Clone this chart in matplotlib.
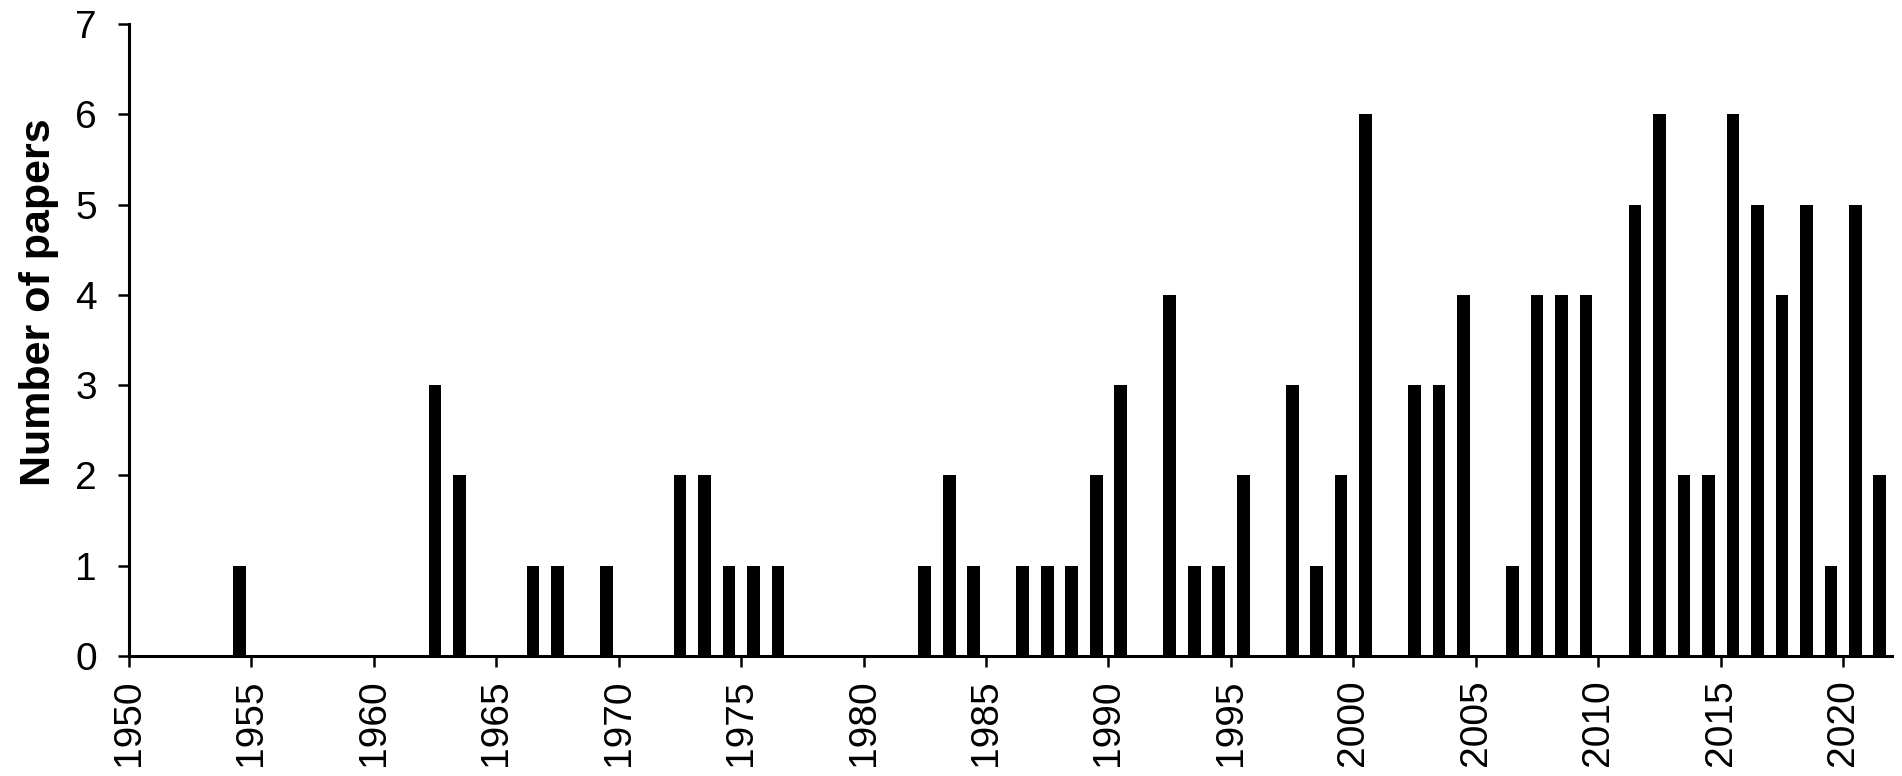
import matplotlib
matplotlib.use("Agg")
import matplotlib.pyplot as plt

# number of papers per year (years with zero papers left out)
years = [1954, 1962, 1963, 1966, 1967, 1969, 1972, 1973, 1974, 1975, 1976,
         1982, 1983, 1984, 1986, 1987, 1988, 1989, 1990, 1992, 1993, 1994,
         1995, 1997, 1998, 1999, 2000, 2002, 2003, 2004, 2006, 2007, 2008,
         2009, 2011, 2012, 2013, 2014, 2015, 2016, 2017, 2018, 2019, 2020, 2021]
papers = [1, 3, 2, 1, 1, 1, 2, 2, 1, 1, 1,
          1, 2, 1, 1, 1, 1, 2, 3, 4, 1, 1,
          2, 3, 1, 2, 6, 3, 3, 4, 1, 4, 4,
          4, 5, 6, 2, 2, 6, 5, 4, 5, 1, 5, 2]
xticks = list(range(1950, 2021, 5))
yticks = list(range(0, 8))

plt.rcParams['font.family'] = ['Liberation Sans', 'DejaVu Sans']

fig = plt.figure(figsize=(19.02, 7.76), dpi=100)
ax = fig.add_axes([0.0678, 0.1546, 0.927, 0.8144])

# Excel-style date axis: each year's bar sits in the middle of its slot
x = [y + 0.5 for y in years]
ax.bar(x, papers, width=0.52, color='black', edgecolor='none')

ax.set_xlim(1950, 2022)
ax.set_ylim(0, 7)
ax.set_xticks(xticks)
ax.set_xticklabels([str(t) for t in xticks], rotation=90)
ax.set_yticks(yticks)

for side in ['top', 'right']:
    ax.spines[side].set_visible(False)
for side in ['left', 'bottom']:
    ax.spines[side].set_linewidth(2.2)

ax.tick_params(axis='both', direction='out', length=8, width=1.8, labelsize=28)
ax.tick_params(axis='x', pad=9)
ax.tick_params(axis='y', pad=15)

ax.set_ylabel('Number of papers', fontsize=31, fontweight='bold')
ax.yaxis.set_label_coords(-0.0398, 0.56)

fig.savefig('out.png', dpi=100)
